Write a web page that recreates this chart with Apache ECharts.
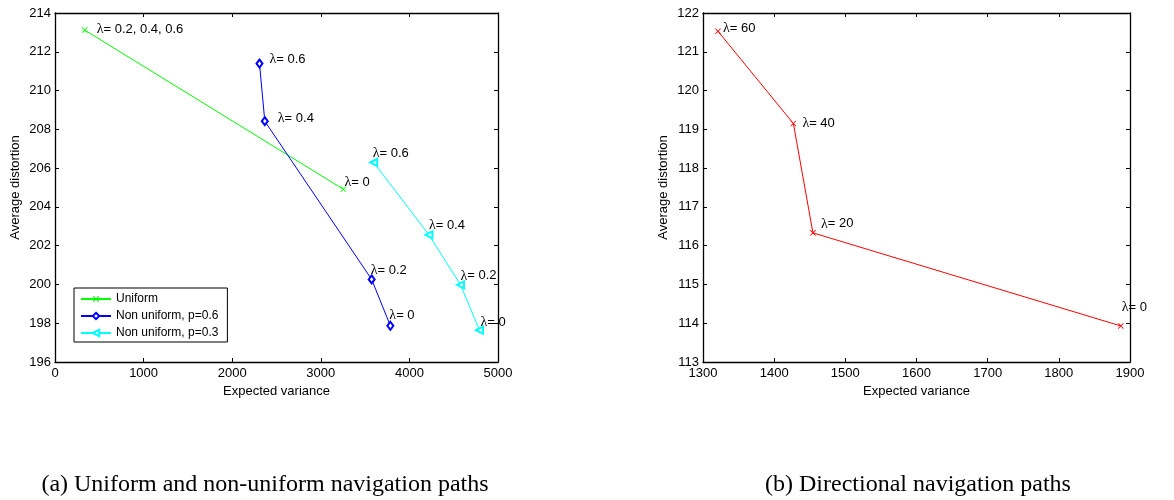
<!DOCTYPE html>
<html>
<head>
<meta charset="utf-8">
<style>html,body{margin:0;padding:0;background:#fff;}#c{width:1174px;height:500px;}</style>
<script src="https://cdn.jsdelivr.net/npm/echarts@6/dist/echarts.min.js"></script>
</head>
<body>
<div id="c"></div>
<script>
// ---- Data ----
const uniformX = [3255, 335];
const uniformY = [204.91, 213.12];
const uniformLabels = ['0', '0.2, 0.4, 0.6'];

const nonUniform06X = [3785, 3574, 2368, 2308];
const nonUniform06Y = [197.87, 200.26, 208.42, 211.39];
const nonUniform06Labels = ['0', '0.2', '0.4', '0.6'];

const nonUniform03X = [4791, 4577, 4220, 3597];
const nonUniform03Y = [197.64, 199.98, 202.56, 206.29];
const nonUniform03Labels = ['0', '0.2', '0.4', '0.6'];

const directionalX = [1887, 1454.5, 1427, 1321];
const directionalY = [113.93, 116.33, 119.15, 121.53];
const directionalLabels = ['0', '20', '40', '60'];

const seriesNames = ['Uniform', 'Non uniform, p=0.6', 'Non uniform, p=0.3'];
const captions = ['(a) Uniform and non-uniform navigation paths', '(b) Directional navigation paths'];
const axisNames = { x: 'Expected variance', y: 'Average distortion' };

// ---- Label placement (style only) ----
const uniformOff = [[1, -7], [12, -1]];
const nu06Off = [[-1, -10], [-1, -9], [13, -3], [10, -4]];
const nu03Off = [[1, -8], [0, -9], [0, -9], [-1, -9]];
const dirOff = [[1, -19], [8, -9], [9, 0], [5, -3]];

const SANS = 'Liberation Sans, Arial, Helvetica, sans-serif';
const SERIF = 'Liberation Serif, Times New Roman, serif';
const xPath = 'path://M0,1L1,0L5,4L9,0L10,1L6,5L10,9L9,10L5,6L1,10L0,9L4,5Z';

function pts(xs, ys, labels, offs) {
  return xs.map((x, i) => ({
    value: [x, ys[i]],
    lam: labels[i],
    label: { offset: offs[i] }
  }));
}
const labelCfg = {
  show: true,
  position: 'inside',
  align: 'left',
  verticalAlign: 'middle',
  formatter: p => '{l|λ}{t|= ' + p.data.lam + '}',
  rich: {
    l: { fontFamily: SERIF, fontSize: 14, color: '#000' },
    t: { fontFamily: SANS, fontSize: 13, color: '#000' }
  }
};

function axisPair(gridIndex, min, max, interval, isX) {
  const base = {
    type: 'value', gridIndex, min, max, interval, scale: true,
    axisLine: { show: true, onZero: false, lineStyle: { color: '#000', width: 1.3 } },
    axisTick: { show: true, inside: true, length: 4, lineStyle: { color: '#000', width: 1 } },
    splitLine: { show: false }
  };
  const main = Object.assign({}, base, {
    position: isX ? 'bottom' : 'left',
    axisLabel: { show: true, color: '#000', fontFamily: SANS, fontSize: 13, margin: isX ? 5 : 4, formatter: v => String(v) },
    name: isX ? axisNames.x : axisNames.y,
    nameLocation: 'middle',
    nameGap: isX ? 19 : 33,
    nameTextStyle: { color: '#000', fontFamily: SANS, fontSize: 13 }
  });
  const opp = Object.assign({}, base, {
    position: isX ? 'top' : 'right',
    axisLabel: { show: false }
  });
  return [main, opp];
}

const lx = axisPair(0, 0, 5000, 1000, true);
const ly = axisPair(0, 196, 214, 2, false);
const rx = axisPair(1, 1300, 1900, 100, true);
const ry = axisPair(1, 113, 122, 1, false);

const option = {
  animation: false,
  backgroundColor: '#fff',
  grid: [
    { left: 55, top: 13, width: 443, height: 349 },
    { left: 703, top: 13, width: 427, height: 349 }
  ],
  xAxis: [lx[0], lx[1], rx[0], rx[1]],
  yAxis: [ly[0], ly[1], ry[0], ry[1]],
  legend: {
    data: seriesNames,
    orient: 'vertical',
    left: 74, top: 288,
    itemWidth: 30, itemHeight: 8, itemGap: 5,
    padding: [5, 9, 3, 6],
    borderColor: '#000', borderWidth: 1,
    backgroundColor: '#fff',
    textStyle: { color: '#000', fontFamily: SANS, fontSize: 12 }
  },
  series: [
    {
      name: seriesNames[0], type: 'line', xAxisIndex: 0, yAxisIndex: 0,
      data: pts(uniformX, uniformY, uniformLabels, uniformOff),
      symbol: xPath, symbolSize: 6,
      lineStyle: { color: '#00ff00', width: 1 },
      itemStyle: { color: '#00ff00' },
      label: labelCfg, z: 3
    },
    {
      name: seriesNames[1], type: 'line', xAxisIndex: 0, yAxisIndex: 0,
      data: pts(nonUniform06X, nonUniform06Y, nonUniform06Labels, nu06Off),
      symbol: 'emptyDiamond', symbolSize: [6, 8],
      lineStyle: { color: '#0000ff', width: 1 },
      itemStyle: { color: '#0000ff', borderWidth: 1 },
      label: labelCfg, z: 4
    },
    {
      name: seriesNames[2], type: 'line', xAxisIndex: 0, yAxisIndex: 0,
      data: pts(nonUniform03X, nonUniform03Y, nonUniform03Labels, nu03Off),
      symbol: 'emptyTriangle', symbolSize: 7, symbolRotate: 90,
      lineStyle: { color: '#00ffff', width: 1 },
      itemStyle: { color: '#00ffff', borderWidth: 1 },
      label: labelCfg, z: 5
    },
    {
      name: 'Directional', type: 'line', xAxisIndex: 2, yAxisIndex: 2,
      data: pts(directionalX, directionalY, directionalLabels, dirOff),
      symbol: xPath, symbolSize: 6,
      lineStyle: { color: '#ff0000', width: 1 },
      itemStyle: { color: '#ff0000' },
      label: labelCfg
    }
  ],
  graphic: [
    { type: 'text', x: 265, y: 485, style: { text: captions[0], fill: '#000', font: '24px ' + SERIF, textAlign: 'center', textVerticalAlign: 'middle' } },
    { type: 'text', x: 918, y: 485, style: { text: captions[1], fill: '#000', font: '24px ' + SERIF, textAlign: 'center', textVerticalAlign: 'middle' } }
  ]
};

const chart = echarts.init(document.getElementById('c'), null, { renderer: 'canvas' });
chart.setOption(option);
</script>
</body>
</html>
